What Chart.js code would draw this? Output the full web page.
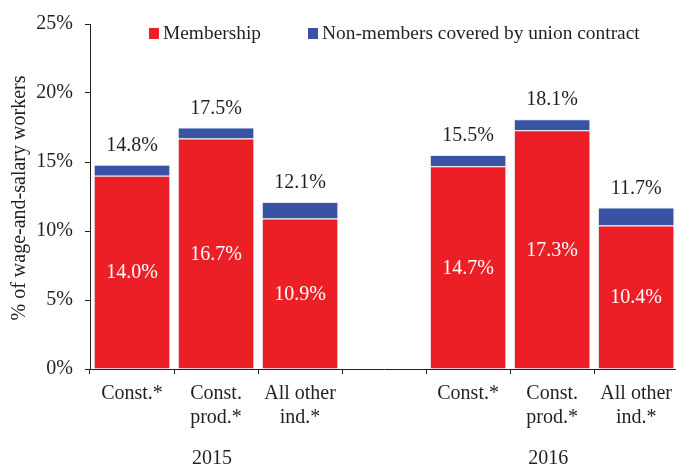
<!DOCTYPE html>
<html><head><meta charset="utf-8">
<script src="https://cdn.jsdelivr.net/npm/chart.js@4/dist/chart.umd.min.js"></script>
<style>html,body{margin:0;padding:0;overflow:hidden;background:#fff}canvas{display:block}</style>
</head><body><canvas id="c" width="680" height="468" style="width:680px;height:468px"></canvas>
<script>
const categoryLabels = [["Const.*"],["Const.","prod.*"],["All other","ind.*"],[""],["Const.*"],["Const.","prod.*"],["All other","ind.*"]];
const yearLabels = ["2015","2016"];
const yearCenterIndex = [1,5];
const membership = [14.0,16.7,10.9,null,14.7,17.3,10.4];
const nonMembers = [0.8,0.8,1.2,null,0.8,0.8,1.3];
const totals = [14.8,17.5,12.1,null,15.5,18.1,11.7];
const seriesNames = ["Membership","Non-members covered by union contract"];
const yTitle = "% of wage-and-salary workers";
const yTicks = [0,5,10,15,20,25];

const RED = '#ED1F26', BLUE = '#3953A4', TXT = '#231F20';
const FONT = "'Liberation Serif','Times New Roman',serif";

const labelsPlugin = {
  id:'labelsPlugin',
  afterDatasetsDraw(chart){
    const ctx = chart.ctx;
    const m0 = chart.getDatasetMeta(0), m1 = chart.getDatasetMeta(1);
    ctx.save();
    ctx.font = '20px ' + FONT;
    ctx.textAlign = 'center';
    ctx.textBaseline = 'middle';
    membership.forEach((v,i)=>{
      if (v == null) return;
      const b = m0.data[i];
      ctx.fillStyle = '#ffffff';
      ctx.fillText(v.toFixed(1)+'%', b.x, (b.y + b.base)/2 + 1);
      const t = m1.data[i];
      ctx.fillStyle = TXT;
      ctx.fillText(totals[i].toFixed(1)+'%', t.x, t.y - 19);
    });
    // year labels
    const xs = chart.scales.x;
    yearLabels.forEach((y,k)=>{
      ctx.fillText(y, xs.getPixelForValue(yearCenterIndex[k]) - 4, 459);
    });
    // y-axis title
    ctx.save();
    ctx.translate(20, 198);
    ctx.rotate(-Math.PI/2);
    ctx.fillText(yTitle, 0, 0);
    ctx.restore();
    // legend
    ctx.font = '19.4px ' + FONT;
    const items = [[149, RED, seriesNames[0]],[308, BLUE, seriesNames[1]]];
    ctx.textAlign = 'left';
    items.forEach(([x,c,t])=>{
      ctx.fillStyle = c;
      ctx.fillRect(x, 28, 10, 11);
      ctx.fillStyle = TXT;
      ctx.fillText(t, x + 14, 34);
    });
    ctx.restore();
  }
};

new Chart(document.getElementById('c'), {
  type:'bar',
  data:{
    labels: categoryLabels,
    datasets:[
      {label:seriesNames[0], data:membership, backgroundColor:RED, borderColor:'#E8E4F0', borderWidth:1, borderSkipped:'bottom'},
      {label:seriesNames[1], data:nonMembers, backgroundColor:BLUE, borderColor:'#E8E4F0', borderWidth:1, borderSkipped:'bottom'}
    ]
  },
  options:{
    responsive:false,
    animation:false,
    devicePixelRatio:1,
    layout:{padding:{top:20,right:0,left:0,bottom:0}},
    datasets:{bar:{barPercentage:0.91,categoryPercentage:1}},
    plugins:{legend:{display:false},tooltip:{enabled:false}},
    scales:{
      x:{
        stacked:true,
        offset:true,
        grid:{drawOnChartArea:false,offset:true,tickLength:5,color:'#231F20'},
        border:{color:'#231F20',width:1},
        ticks:{color:TXT,font:{family:FONT,size:20,lineHeight:1.2},padding:8,maxRotation:0,autoSkip:false},
        afterFit(s){ s.height = 99; }
      },
      y:{
        stacked:true,
        min:0,max:25,
        afterBuildTicks(s){ s.ticks = yTicks.map(v=>({value:v})); },
        grid:{drawOnChartArea:false,tickLength:5,color:'#231F20'},
        border:{color:'#231F20',width:1},
        ticks:{color:TXT,font:{family:FONT,size:20},padding:12,callback:v=>v+'%'},
        title:{display:false},
        afterFit(s){ s.width = 90; }
      }
    }
  },
  plugins:[labelsPlugin]
});
</script></body></html>
